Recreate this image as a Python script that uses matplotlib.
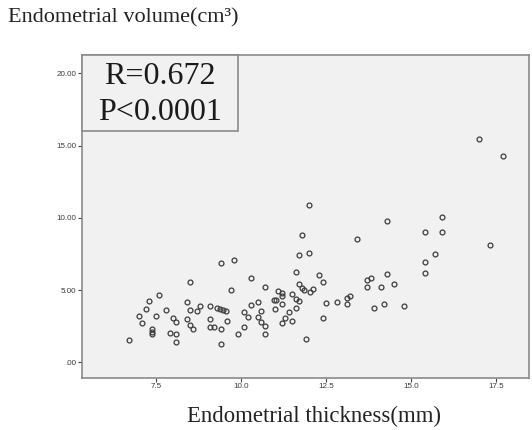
import matplotlib
matplotlib.use("Agg")
import matplotlib.pyplot as plt
from matplotlib.patches import Rectangle

# Endometrial thickness (mm)
thickness = [
    6.69, 6.99, 7.09, 7.20, 7.29, 7.37, 7.37, 7.37, 7.49, 7.59,
    7.79, 7.89, 7.99, 8.09, 8.09, 8.09, 8.39, 8.50, 8.50, 8.39,
    8.49, 8.59, 8.70, 8.79, 9.09, 9.09, 9.09, 9.19, 9.29, 9.38,
    9.45, 9.55, 9.39, 9.39, 9.39, 9.59, 9.69, 9.79, 9.89, 10.09,
    10.09, 10.19, 10.29, 10.29, 10.49, 10.49, 10.59, 10.59, 10.70, 10.70,
    10.70, 10.97, 11.02, 10.99, 11.09, 11.19, 11.19, 11.19, 11.21, 12.00,
    11.79, 13.39, 11.70, 12.00, 14.29, 15.90, 15.40, 15.90, 17.31, 15.71,
    15.40, 15.40, 11.60, 12.29, 12.40, 11.70, 11.79, 11.85, 12.02, 12.10,
    11.50, 11.60, 11.70, 11.60, 11.40, 11.29, 11.50, 11.90, 12.40, 12.50,
    12.81, 13.10, 13.20, 13.10, 13.69, 13.80, 13.69, 14.10, 14.29, 14.50,
    13.90, 14.20, 14.79, 17.00, 17.71,
]
# Endometrial volume (cm3)
volume = [
    1.56, 3.23, 2.74, 3.67, 4.22, 2.32, 2.13, 1.94, 3.23, 4.64,
    3.60, 2.03, 3.09, 2.77, 1.98, 1.40, 4.19, 5.56, 3.64, 3.00,
    2.58, 2.30, 3.53, 3.88, 3.88, 3.02, 2.44, 2.42, 3.76, 3.72,
    3.62, 3.55, 6.89, 2.30, 1.27, 2.88, 4.98, 7.10, 1.96, 3.48,
    2.46, 3.13, 5.83, 3.94, 4.17, 3.13, 3.57, 2.81, 2.53, 1.94,
    5.21, 4.33, 4.28, 3.69, 4.93, 4.77, 4.59, 2.74, 4.01, 10.86,
    8.81, 8.51, 7.45, 7.59, 9.76, 10.06, 9.04, 9.04, 8.10, 7.52,
    6.96, 6.20, 6.25, 6.06, 5.56, 5.44, 5.12, 4.98, 4.89, 5.07,
    4.75, 4.36, 4.22, 3.76, 3.46, 3.04, 2.86, 1.64, 3.09, 4.10,
    4.15, 4.43, 4.61, 4.06, 5.72, 5.81, 5.21, 5.21, 6.13, 5.40,
    3.74, 4.06, 3.88, 15.43, 14.30,
]

x_ticks = [7.5, 10.0, 12.5, 15.0, 17.5]
x_tick_labels = ["7.5", "10.0", "12.5", "15.0", "17.5"]
y_ticks = [0, 5, 10, 15, 20]
y_tick_labels = [".00", "5.00", "10.00", "15.00", "20.00"]

W, H = 532, 430
fig = plt.figure(figsize=(W / 100, H / 100), dpi=100)
fig.patch.set_facecolor("white")

left, right, top, bottom = 82, 529, 55, 377.7
ax = fig.add_axes([left / W, (H - bottom) / H, (right - left) / W, (bottom - top) / H])
ax.set_facecolor("#f1f1f1")

ax.plot(thickness, volume, linestyle="none", marker="o", markersize=3.5,
        markerfacecolor="none", markeredgecolor="#3c3c3c", markeredgewidth=0.9)

ax.set_xlim(5.315, 18.46)
ax.set_ylim(-1.066, 21.27)
ax.set_xticks(x_ticks)
ax.set_xticklabels(x_tick_labels)
ax.set_yticks(y_ticks)
ax.set_yticklabels(y_tick_labels)
ax.tick_params(axis="both", direction="out", length=3.0, width=0.8, color="#444444",
               labelsize=5.8, labelcolor="#3a3a3a", pad=1.0)
for lab in ax.get_xticklabels() + ax.get_yticklabels():
    lab.set_family("Liberation Sans")

for s in ax.spines.values():
    s.set_color("#8a8a8a")
    s.set_linewidth(1.2)

serif = ["Liberation Serif", "DejaVu Serif"]

# statistics box
ax.add_patch(Rectangle((0, 1 - 0.2355), 0.3497, 0.2355, transform=ax.transAxes,
                       facecolor="#f1f1f1", edgecolor="#8a8a8a", linewidth=1.2,
                       clip_on=False, zorder=3))
ax.text(0.1745, 0.932, "R=0.672", transform=ax.transAxes, ha="center", va="center",
        fontsize=23, family=serif, color="#1a1a1a", zorder=4)
ax.text(0.1745, 0.822, "P<0.0001", transform=ax.transAxes, ha="center", va="center",
        fontsize=23, family=serif, color="#1a1a1a", zorder=4)

fig.text(8 / W, 1 - 18 / H, "Endometrial volume(cm³)", ha="left", va="center",
         fontsize=16, family=serif, color="#222222")
fig.text(314 / W, 1 - 416 / H, "Endometrial thickness(mm)", ha="center", va="center",
         fontsize=16.4, family=serif, color="#222222")

fig.savefig("out.png", dpi=100, facecolor="white")
